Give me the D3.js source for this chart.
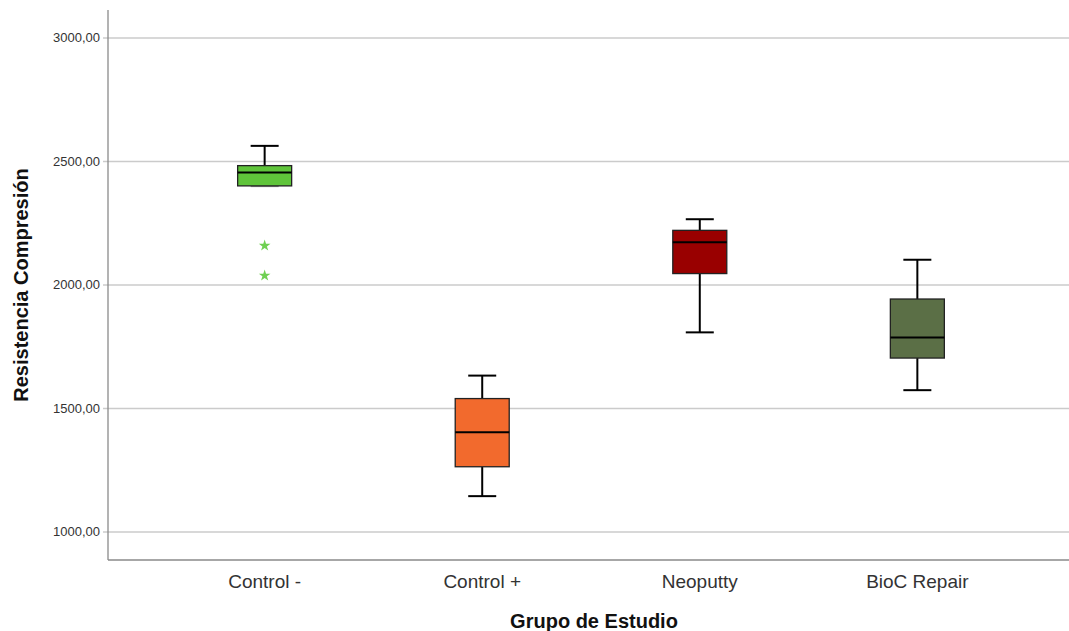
<!DOCTYPE html>
<meta charset="utf-8">
<style>
  body { margin: 0; background: #fff; }
  text { font-family: "Liberation Sans", Arial, sans-serif; }
</style>
<script src="https://d3js.org/d3.v7.min.js"></script>
<div id="chart"></div>
<script>
// box plot data
var grupos    = ["Control -", "Control +", "Neoputty", "BioC Repair"];
var bigoteMin = [2400, 1145, 1808, 1574];
var q1        = [2401, 1264, 2046, 1704];
var mediana   = [2455, 1404, 2173, 1787];
var q3        = [2483, 1540, 2221, 1943];
var bigoteMax = [2563, 1633, 2266, 2102];
var colores   = ["#5fc43a", "#f26a2d", "#990000", "#5b6f46"];
var atipicos  = [[2159, 2038], [], [], []];
var ticks     = [1000, 1500, 2000, 2500, 3000];

var width = 1069, height = 631;
var mLeft = 108, mTop = 10, mBottom = 560;

var svg = d3.select("#chart").append("svg")
  .attr("width", width).attr("height", height);

var y = d3.scaleLinear().domain([886.5, 3113]).range([mBottom, mTop]);
var x = d3.scalePoint().domain(grupos).range([mLeft, width + 5]).padding(0.72);

// grid
svg.selectAll(".grid").data(ticks).enter().append("line")
  .attr("x1", mLeft - 5).attr("x2", width)
  .attr("y1", function(d) { return y(d); })
  .attr("y2", function(d) { return y(d); })
  .style("stroke", "#cbcbcb").style("stroke-width", 1.5);

// y axis labels
svg.selectAll(".ylab").data(ticks).enter().append("text")
  .attr("x", mLeft - 8)
  .attr("y", function(d) { return y(d) + 4.5; })
  .attr("text-anchor", "end")
  .style("font-size", "13px").style("fill", "#333")
  .text(function(d) { return d3.format(".2f")(d).replace(".", ","); });

// frame
svg.append("line").attr("x1", mLeft).attr("x2", mLeft).attr("y1", mTop).attr("y2", mBottom)
  .style("stroke", "#8a8a8a").style("stroke-width", 1.3);
svg.append("line").attr("x1", mLeft).attr("x2", width).attr("y1", mBottom).attr("y2", mBottom)
  .style("stroke", "#8a8a8a").style("stroke-width", 1.3);

var boxW = 54, capW = 28;
var g = svg.selectAll(".box").data(grupos).enter().append("g");

// whiskers
g.append("line")
  .attr("x1", function(d) { return x(d); }).attr("x2", function(d) { return x(d); })
  .attr("y1", function(d, i) { return y(bigoteMax[i]); })
  .attr("y2", function(d, i) { return y(q3[i]); })
  .style("stroke", "#000").style("stroke-width", 2);
g.append("line")
  .attr("x1", function(d) { return x(d); }).attr("x2", function(d) { return x(d); })
  .attr("y1", function(d, i) { return y(q1[i]); })
  .attr("y2", function(d, i) { return y(bigoteMin[i]); })
  .style("stroke", "#000").style("stroke-width", 2);
g.append("line")
  .attr("x1", function(d) { return x(d) - capW / 2; }).attr("x2", function(d) { return x(d) + capW / 2; })
  .attr("y1", function(d, i) { return y(bigoteMax[i]); })
  .attr("y2", function(d, i) { return y(bigoteMax[i]); })
  .style("stroke", "#000").style("stroke-width", 2);
g.append("line")
  .attr("x1", function(d) { return x(d) - capW / 2; }).attr("x2", function(d) { return x(d) + capW / 2; })
  .attr("y1", function(d, i) { return y(bigoteMin[i]); })
  .attr("y2", function(d, i) { return y(bigoteMin[i]); })
  .style("stroke", function(d, i) { return i == 0 ? "#999" : "#000"; })
  .style("stroke-width", 2);

// boxes
g.append("rect")
  .attr("x", function(d) { return x(d) - boxW / 2; })
  .attr("y", function(d, i) { return y(q3[i]); })
  .attr("width", boxW)
  .attr("height", function(d, i) { return y(q1[i]) - y(q3[i]); })
  .style("fill", function(d, i) { return colores[i]; })
  .style("stroke", "#222").style("stroke-width", 1.3);

// median
g.append("line")
  .attr("x1", function(d) { return x(d) - boxW / 2; }).attr("x2", function(d) { return x(d) + boxW / 2; })
  .attr("y1", function(d, i) { return y(mediana[i]); })
  .attr("y2", function(d, i) { return y(mediana[i]); })
  .style("stroke", "#000").style("stroke-width", 2);

// outliers
var star = d3.symbol().type(d3.symbolStar).size(42);
grupos.forEach(function(grp, i) {
  atipicos[i].forEach(function(v) {
    svg.append("path").attr("d", star)
      .attr("transform", "translate(" + x(grp) + "," + y(v) + ")")
      .style("fill", "#6fd052");
  });
});

// category labels
svg.selectAll(".xlab").data(grupos).enter().append("text")
  .attr("x", function(d) { return x(d); }).attr("y", 588)
  .attr("text-anchor", "middle")
  .style("font-size", "19px").style("fill", "#333")
  .text(function(d) { return d; });

// axis titles
svg.append("text").attr("x", 594).attr("y", 628)
  .attr("text-anchor", "middle")
  .style("font-size", "20px").style("font-weight", "bold").style("fill", "#111")
  .text("Grupo de Estudio");
svg.append("text")
  .attr("transform", "translate(28,285) rotate(-90)")
  .attr("text-anchor", "middle")
  .style("font-size", "20px").style("font-weight", "bold").style("fill", "#111")
  .text("Resistencia Compresión");
</script>
